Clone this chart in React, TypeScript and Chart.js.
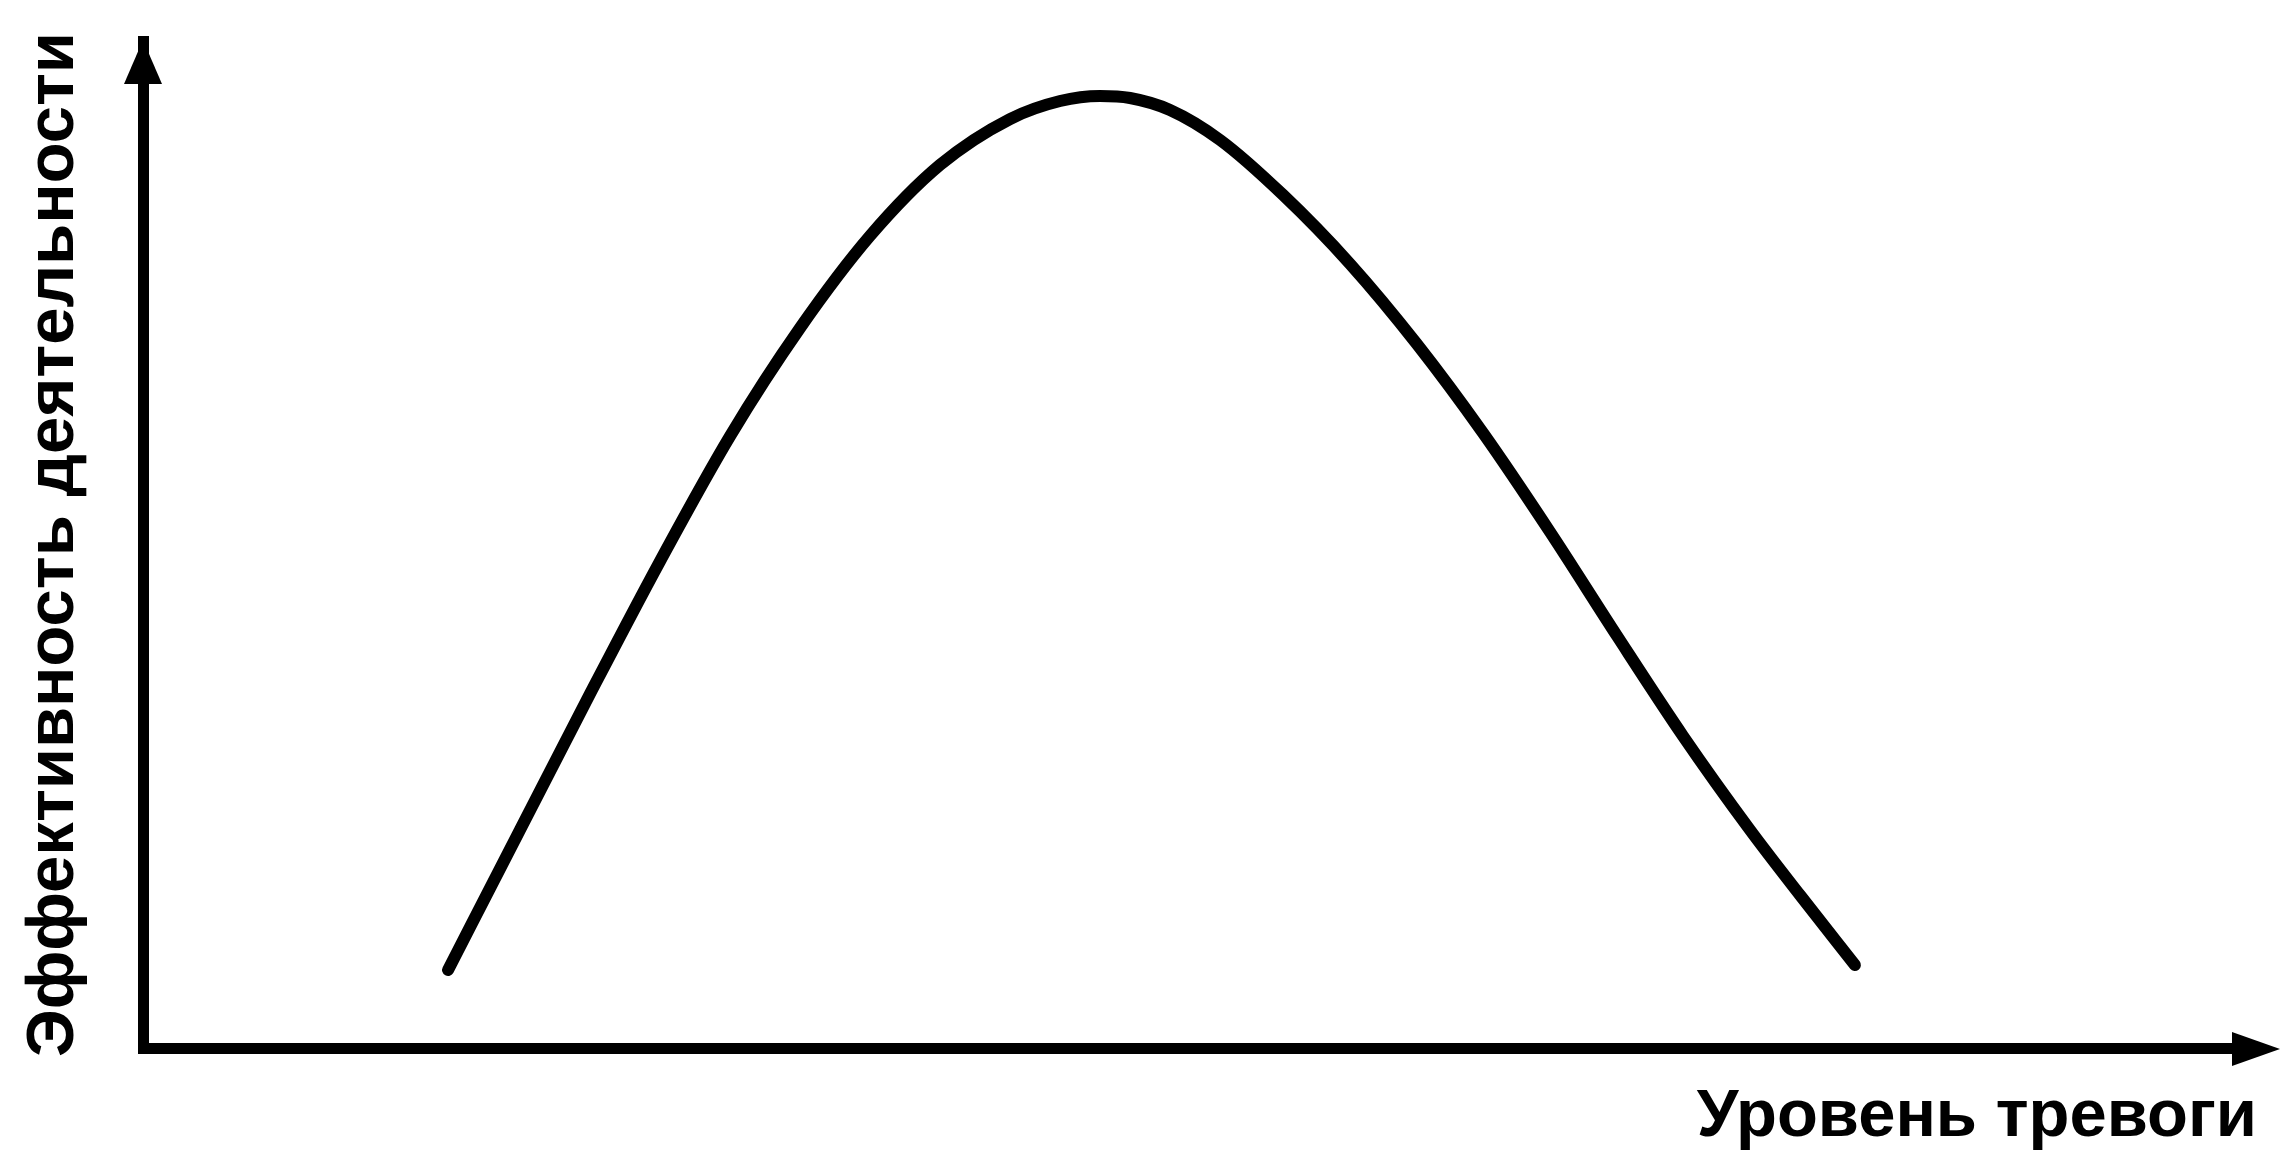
import React, { useEffect, useRef } from "react";
import { Chart, registerables } from "chart.js";

Chart.register(...registerables);

// Anxiety level (x) and activity efficiency (y) (0–100 units)
const anxietyLevel = [14.43, 17.83, 21.14, 24.46, 27.77, 31.08, 34.39, 37.7, 41.01, 43.38, 45.27, 46.69, 48.58, 50.95, 53.93, 57.1, 60.26, 63.39, 66.56, 69.73, 72.85, 76.02, 78.38, 80.98];
const efficiency = [7.75, 21.65, 35.15, 48.36, 60.77, 71.5, 80.64, 87.69, 92.25, 94.04, 94.54, 94.34, 93.15, 90.17, 84.71, 77.86, 69.91, 61.07, 51.24, 40.91, 30.98, 21.65, 15.19, 8.24];

const xTitle = "Уровень тревоги";
const yTitle = "Эффективность деятельности";

const FONT_FAMILY = "'Liberation Sans', Arial, Helvetica, sans-serif";

const arrowPlugin = {
  id: "axisArrows",
  afterDraw(chart: any) {
    const { ctx, chartArea } = chart;
    const xs = chart.scales.x;
    const ys = chart.scales.y;
    const x0 = xs.getPixelForValue(xs.min);
    const y0 = ys.getPixelForValue(ys.min);
    ctx.save();
    ctx.fillStyle = "#000";
    ctx.strokeStyle = "#000";
    // y arrow
    const yTip = chartArea.top - 1;
    ctx.beginPath();
    ctx.moveTo(x0, yTip);
    ctx.lineTo(x0 - 19, yTip + 44);
    ctx.lineTo(x0 + 19, yTip + 44);
    ctx.closePath();
    ctx.fill();
    // x arrow: extend axis line and draw head
    const xTip = chartArea.right + 23;
    ctx.lineWidth = 11;
    ctx.beginPath();
    ctx.moveTo(chartArea.right - 2, y0);
    ctx.lineTo(xTip - 20, y0);
    ctx.stroke();
    ctx.beginPath();
    ctx.moveTo(xTip, y0 + 1);
    ctx.lineTo(xTip - 48, y0 - 16);
    ctx.lineTo(xTip - 48, y0 + 18);
    ctx.closePath();
    ctx.fill();
    ctx.restore();
  },
};

export default function App() {
  const canvasRef = useRef<HTMLCanvasElement | null>(null);

  useEffect(() => {
    document.body.style.margin = "0";
    const canvas = canvasRef.current;
    if (!canvas) return;
    const points = anxietyLevel.map((x, i) => ({ x, y: efficiency[i] }));
    const chart = new Chart(canvas, {
      type: "line",
      data: {
        datasets: [
          {
            data: points,
            borderColor: "#000",
            borderWidth: 12,
            borderCapStyle: "round",
            borderJoinStyle: "round",
            pointRadius: 0,
            cubicInterpolationMode: "monotone",
            fill: false,
          },
        ],
      },
      options: {
        animation: false,
        responsive: false,
        events: [],
        layout: { padding: { left: 0, top: 41, right: 39, bottom: 0 } },
        plugins: { legend: { display: false }, tooltip: { enabled: false } },
        scales: {
          x: {
            type: "linear",
            min: 0,
            max: 100,
            grid: { display: false, drawTicks: false },
            ticks: { display: false },
            border: { display: true, color: "#000", width: 11 },
            title: {
              display: true,
              text: xTitle,
              align: "end",
              color: "#000",
              font: { family: FONT_FAMILY, size: 67, weight: "bold", lineHeight: 1.2 },
              padding: { top: 29.6, bottom: 10 },
            },
          },
          y: {
            type: "linear",
            min: 0,
            max: 100,
            grid: { display: false, drawTicks: false },
            ticks: { display: false },
            border: { display: true, color: "#000", width: 11 },
            title: {
              display: true,
              text: yTitle,
              align: "center",
              color: "#000",
              font: { family: FONT_FAMILY, size: 67, weight: "bold", lineHeight: 1.2 },
              padding: { top: 14.6, bottom: 48 },
            },
          },
        },
      },
      plugins: [arrowPlugin],
    } as any);
    return () => chart.destroy();
  }, []);

  return (
    <div style={{ position: "fixed", left: 0, top: 0, width: 2296, height: 1168, background: "#fff" }}>
      <canvas ref={canvasRef} width={2296} height={1168} style={{ display: "block" }} />
    </div>
  );
}
